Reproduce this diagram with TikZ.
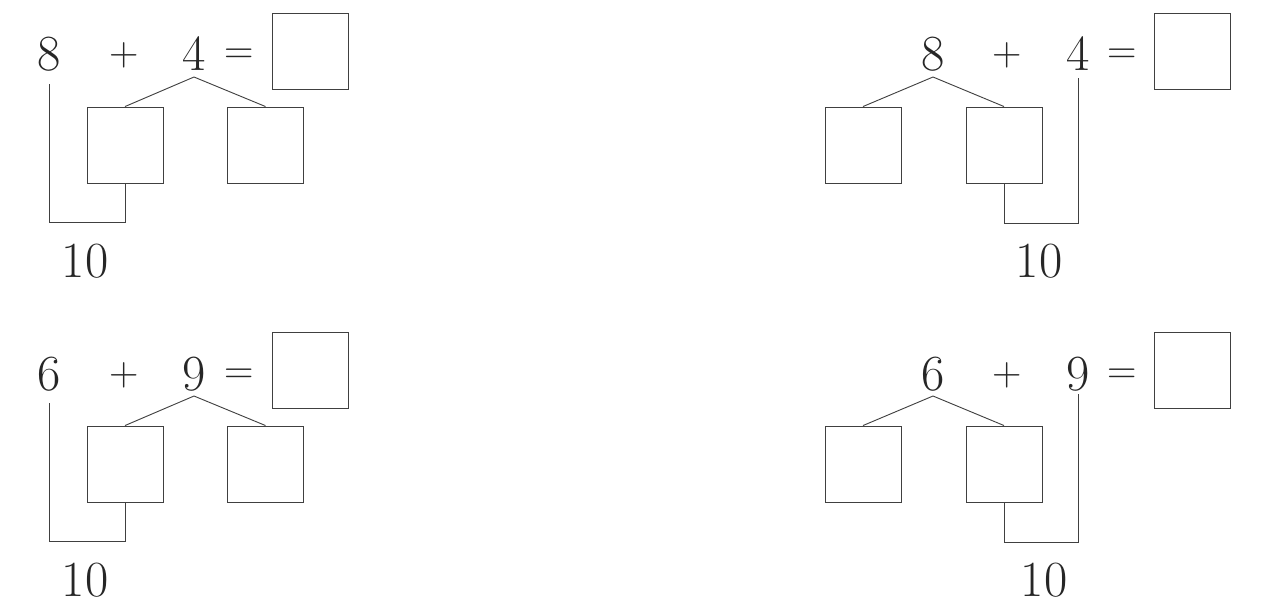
\documentclass[tikz,border=0pt]{standalone}
\tikzset{
  num/.style={font=\fontsize{36}{43}\selectfont, inner sep=0pt, anchor=base, text=black!85},
  op/.style={num, font=\fontsize{29}{35}\selectfont},
  sq/.style={draw=black!75, line width=0.65pt, minimum size=1.9cm, inner sep=0pt},
  ln/.style={draw=black!75, line width=0.65pt}
}
\begin{document}
\begin{tikzpicture}[x=0.025cm, y=-0.025cm]
\useasboundingbox[fill=white] (0,0) rectangle (1267,612);
\node[num] (a1) at (49,70) {8};
\node[op] (p1) at (124,65) {+};
\node[num] (b1) at (194,70) {4};
\node[op] (e1) at (239,63) {=};
\node[sq] (r1) at (310,51) {};
\node[sq] (l1) at (125,145) {};
\node[sq] (m1) at (265.5,145) {};
\node[num] (t1) at (85,277) {10};
\coordinate (v1) at (194,77);
\coordinate (u1) at (49,84);
\coordinate (k1) at (49,222);
\draw[ln] (l1.north) -- (v1) -- (m1.north);
\draw[ln] (u1) -- (k1) -| (l1.south);

\node[num] (a2) at (933,70) {8};
\node[op] (p2) at (1007,65) {+};
\node[num] (b2) at (1078,70) {4};
\node[op] (e2) at (1122,63) {=};
\node[sq] (r2) at (1192.5,51) {};
\node[sq] (l2) at (863,145) {};
\node[sq] (m2) at (1004,145) {};
\node[num] (t2) at (1039,277) {10};
\coordinate (v2) at (933,77);
\coordinate (u2) at (1078,78);
\coordinate (k2) at (1078,223);
\draw[ln] (l2.north) -- (v2) -- (m2.north);
\draw[ln] (u2) -- (k2) -| (m2.south);

\node[num] (a3) at (49,390) {6};
\node[op] (p3) at (124,385) {+};
\node[num] (b3) at (194,390) {9};
\node[op] (e3) at (239,383) {=};
\node[sq] (r3) at (310,370.5) {};
\node[sq] (l3) at (125,464) {};
\node[sq] (m3) at (265.5,464) {};
\node[num] (t3) at (85,596) {10};
\coordinate (v3) at (194,396);
\coordinate (u3) at (49,403);
\coordinate (k3) at (49,541);
\draw[ln] (l3.north) -- (v3) -- (m3.north);
\draw[ln] (u3) -- (k3) -| (l3.south);

\node[num] (a4) at (933,390) {6};
\node[op] (p4) at (1007,385) {+};
\node[num] (b4) at (1078,390) {9};
\node[op] (e4) at (1122,383) {=};
\node[sq] (r4) at (1192,370.5) {};
\node[sq] (l4) at (863,464) {};
\node[sq] (m4) at (1004,464) {};
\node[num] (t4) at (1044,596) {10};
\coordinate (v4) at (933,396);
\coordinate (u4) at (1078,394);
\coordinate (k4) at (1078,542);
\draw[ln] (l4.north) -- (v4) -- (m4.north);
\draw[ln] (u4) -- (k4) -| (m4.south);
\end{tikzpicture}
\end{document}
